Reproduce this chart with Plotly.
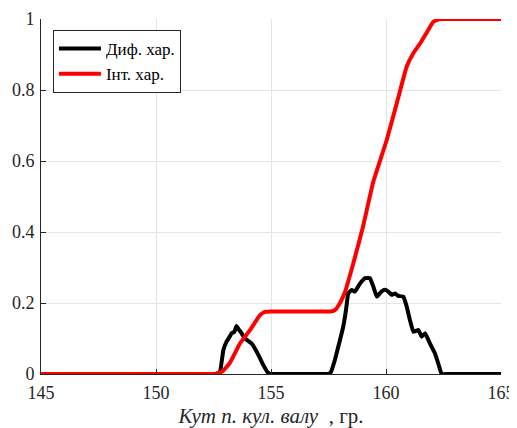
import plotly.graph_objects as go

# Differential characteristic (black)
diff_x = [145, 152.4, 152.6, 152.78, 152.93, 153.07, 153.2, 153.29, 153.4, 153.5, 153.6, 153.68, 153.87, 154.16, 154.45, 154.67, 154.84, 154.95, 155.2,
          157.3, 157.5, 157.6, 157.78, 158.0, 158.14, 158.26, 158.36, 158.51, 158.65, 158.87, 159.09, 159.3, 159.45, 159.6, 159.8, 159.95,
          160.1, 160.25, 160.39, 160.54, 160.75, 160.9, 161.04, 161.19, 161.41, 161.55, 161.7, 161.91, 162.13, 162.27, 162.42, 162.7, 165]
diff_y = [0, 0, 0, 0.006, 0.068, 0.091, 0.105, 0.115, 0.118, 0.135, 0.125, 0.119, 0.100, 0.086, 0.054, 0.025, 0.006, 0, 0,
          0, 0, 0.005, 0.04, 0.096, 0.133, 0.18, 0.227, 0.237, 0.232, 0.255, 0.27, 0.27, 0.246, 0.218, 0.232, 0.237,
          0.232, 0.223, 0.227, 0.22, 0.218, 0.19, 0.152, 0.119, 0.124, 0.105, 0.115, 0.086, 0.058, 0.03, 0.0, 0, 0]

# Integral characteristic (red)
int_x = [145, 152.4, 152.6, 152.9, 153.2, 153.65, 154.09, 154.52, 154.74, 155.0, 155.3,
         157.3, 157.6, 157.78, 158.0, 158.2, 158.58, 159.0, 159.45, 160.03, 160.47, 160.9, 161.2, 161.48, 161.8, 162.06, 162.35, 162.5, 162.8, 165]
int_y = [0, 0, 0, 0.008, 0.03, 0.086, 0.124, 0.166, 0.175, 0.176, 0.176,
         0.176, 0.176, 0.18, 0.2, 0.228, 0.312, 0.415, 0.542, 0.659, 0.763, 0.866, 0.905, 0.931, 0.965, 0.992, 1.0, 1.0, 1.0, 1.0]

x_ticks = [145, 150, 155, 160, 165]
y_ticks = [0, 0.2, 0.4, 0.6, 0.8, 1]
y_tick_labels = ["0", "0.2", "0.4", "0.6", "0.8", "1"]

FONT = "Liberation Serif"

fig = go.Figure()
fig.add_trace(go.Scatter(x=diff_x, y=diff_y, mode="lines", name="Диф. хар.",
                         line=dict(color="black", width=4, shape="spline", smoothing=0.3)))
fig.add_trace(go.Scatter(x=int_x, y=int_y, mode="lines", name="Інт. хар.",
                         line=dict(color="#ff0000", width=4, shape="spline", smoothing=0.3)))

fig.update_layout(
    width=509, height=420,
    margin=dict(l=33, r=16, t=11, b=54),
    paper_bgcolor="white", plot_bgcolor="white",
    font=dict(family=FONT, size=18, color="#262626"),
    showlegend=True,
    legend=dict(x=0.026, y=0.969, xanchor="left", yanchor="top",
                bgcolor="white", bordercolor="#262626", borderwidth=1,
                font=dict(family=FONT, size=17, color="black"),
                tracegroupgap=0, itemwidth=42),
    xaxis=dict(range=[145, 165], tickvals=x_ticks, ticktext=[str(v) for v in x_ticks],
               showgrid=True, gridcolor="#e5e5e5", gridwidth=1,
               showline=True, linecolor="#262626", linewidth=1,
               ticks="inside", ticklen=5, tickcolor="#262626", ticklabelstandoff=2,
               zeroline=False, mirror=False, automargin=False,
               title=dict(text="<i>Кут п. кул. валу </i> , гр.", font=dict(family=FONT, size=21), standoff=13)),
    yaxis=dict(range=[0, 1], tickvals=y_ticks, ticktext=y_tick_labels,
               showgrid=True, gridcolor="#e5e5e5", gridwidth=1,
               showline=True, linecolor="#262626", linewidth=1,
               ticks="inside", ticklen=5, tickcolor="#262626", ticklabelstandoff=2,
               zeroline=False, mirror=False, automargin=False),
)

fig.write_html("out.html")
